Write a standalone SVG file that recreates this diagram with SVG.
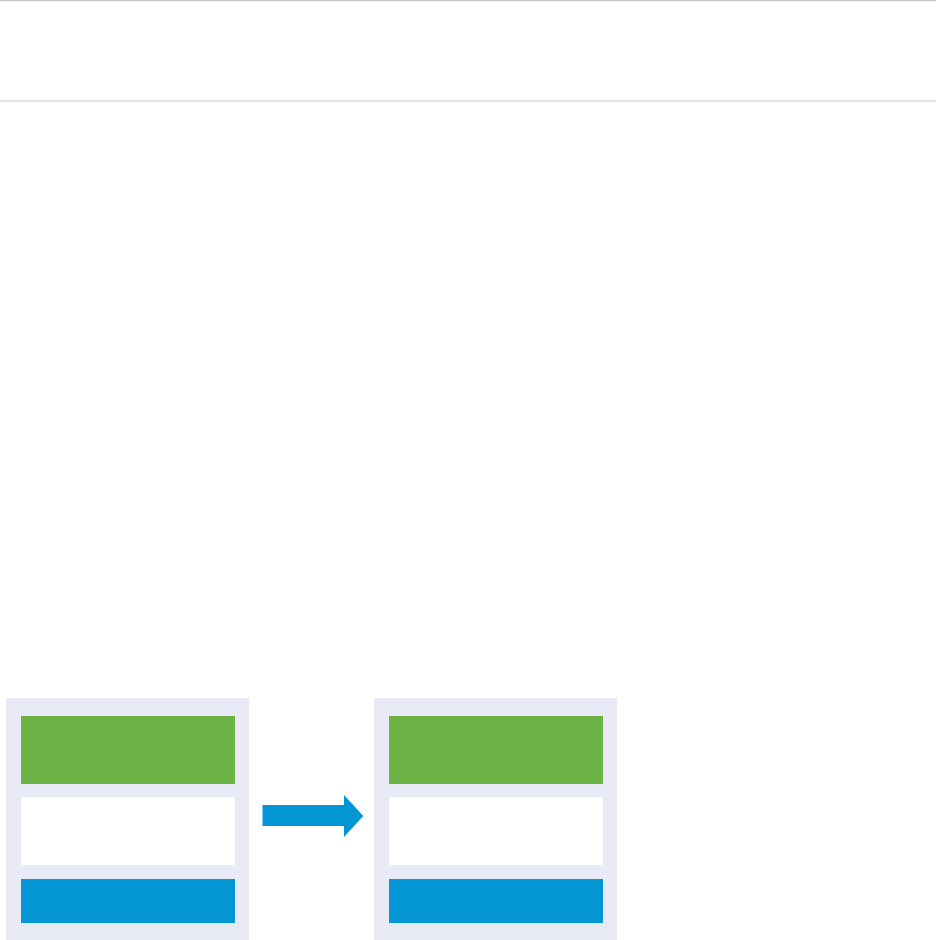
<svg xmlns="http://www.w3.org/2000/svg" width="936" height="940" viewBox="0 0 936 940">
<style>
.rule{stroke:#c8c8c8;stroke-width:1.2}
.panel{fill:#e8eaf5}
.g{fill:#6cb345}
.w{fill:#ffffff}
.b{fill:#0395d4}
</style>
<rect x="0" y="0" width="936" height="940" fill="#ffffff"/>
<line class="rule" x1="0" y1="0.6" x2="936" y2="0.6"/>
<line class="rule" x1="0" y1="101" x2="936" y2="101"/>
<g id="panel-left">
<rect class="panel" x="6" y="698" width="243" height="242"/>
<rect class="g" x="21" y="716" width="214" height="68"/>
<rect class="w" x="21" y="797" width="214" height="68"/>
<rect class="b" x="21" y="879" width="214" height="44"/>
</g>
<g id="panel-right">
<rect class="panel" x="374" y="698" width="243" height="242"/>
<rect class="g" x="389" y="716" width="214" height="68"/>
<rect class="w" x="389" y="797" width="214" height="68"/>
<rect class="b" x="389" y="879" width="214" height="44"/>
</g>
<g id="connectors">
<polygon class="b" points="262.5,805 344,805 344,795 363.3,816 344,837 344,826 262.5,826"/>
</g>
</svg>
